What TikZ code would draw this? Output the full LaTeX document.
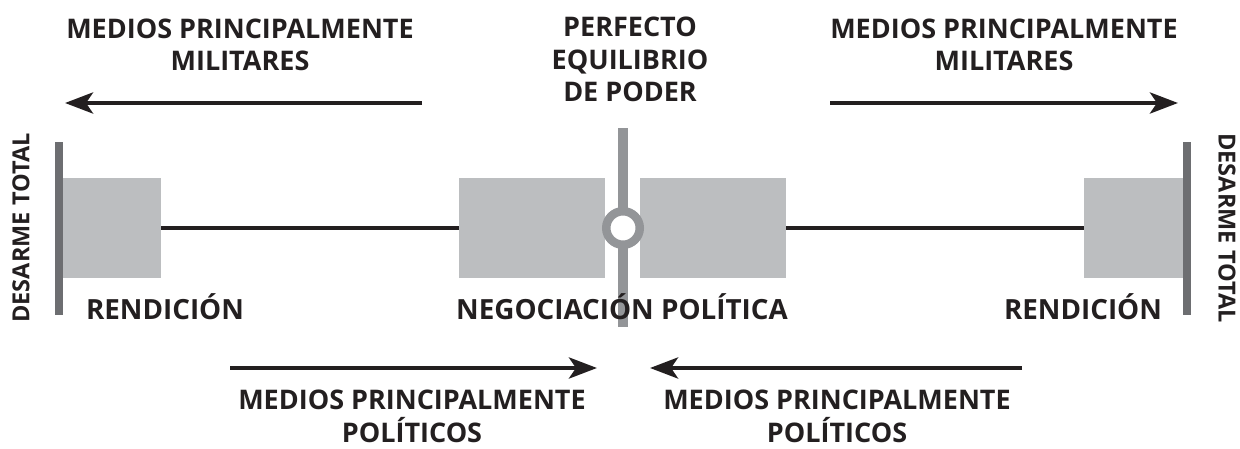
\documentclass[tikz,border=0pt]{standalone}
\usepackage{fontspec}
\setmainfont{Open Sans}
\usetikzlibrary{arrows.meta}
\definecolor{cajagris}{HTML}{BCBEC0}
\definecolor{barragris}{HTML}{6D6E71}
\definecolor{ejegris}{HTML}{939598}
\definecolor{tinta}{HTML}{231F20}
\tikzstyle{caja}=[rectangle,fill=cajagris,minimum height=100pt,inner sep=0pt]
\tikzstyle{barra}=[rectangle,fill=barragris,minimum width=8pt,minimum height=173pt,inner sep=0pt]
\tikzstyle{rotulo}=[text=tinta,font=\fontsize{27}{32.5}\selectfont\bfseries,align=center,inner sep=0pt,anchor=base]
\tikzstyle{flecha}=[draw=tinta,line width=4.5pt,-{Stealth[length=28pt,width=21pt,inset=7pt]}]

\begin{document}
\begin{tikzpicture}[x=1pt,y=-1pt]
    \useasboundingbox (0,0) rectangle (1240,449);
    \node[caja,minimum width=98pt] (c1) at (112,228) {};
    \node[caja,minimum width=146pt] (c2) at (532,228) {};
    \node[caja,minimum width=146pt] (c3) at (713,228) {};
    \node[caja,minimum width=99pt] (c4) at (1133.5,228) {};
    \node[barra] (b1) at (59,228.5) {};
    \node[barra] (b2) at (1186.5,228.5) {};

    \foreach \from/\to in {c1/c2,c3/c4}
    \draw[tinta,line width=4.5pt] (\from) -- (\to);

    \node[rectangle,fill=ejegris,minimum width=10pt,minimum height=199pt,inner sep=0pt] (eje) at (623,227.5) {};
    \node[circle,draw=ejegris,line width=8.5pt,fill=white,minimum size=33.5pt,inner sep=0pt] (anillo) at (623,228) {};

    \node[rotulo,font=\fontsize{27.8}{32}\selectfont\bfseries] (ren1) at (165,319) {RENDICIÓN};
    \node[rotulo,font=\fontsize{27.8}{32}\selectfont\bfseries] (neg) at (622,319) {NEGOCIACIÓN POLÍTICA};
    \node[rotulo,font=\fontsize{27.8}{32}\selectfont\bfseries] (ren2) at (1083,319) {RENDICIÓN};

    \node[rotulo] (mil1) at (240,71) {MEDIOS PRINCIPALMENTE\\MILITARES};
    \node[rotulo] (mil2) at (1004,71) {MEDIOS PRINCIPALMENTE\\MILITARES};
    \node[rotulo] (equi) at (630,102) {PERFECTO\\EQUILIBRIO\\DE PODER};
    \node[rotulo] (pol1) at (412,442) {MEDIOS PRINCIPALMENTE\\POLÍTICOS};
    \node[rotulo] (pol2) at (837,442) {MEDIOS PRINCIPALMENTE\\POLÍTICOS};
    \node[rotulo,font=\fontsize{23.5}{28}\selectfont\bfseries,rotate=90,anchor=center] (des1) at (21,228) {DESARME TOTAL};
    \node[rotulo,font=\fontsize{23.5}{28}\selectfont\bfseries,rotate=-90,anchor=center] (des2) at (1227,228) {DESARME TOTAL};

    \coordinate (m1a) at (422,103);
    \coordinate (m1b) at (65,103);
    \coordinate (m2a) at (830,103);
    \coordinate (m2b) at (1178,103);
    \coordinate (p1a) at (230,368);
    \coordinate (p1b) at (597,368);
    \coordinate (p2a) at (1022,368);
    \coordinate (p2b) at (650,368);
    \foreach \from/\to in {m1a/m1b,m2a/m2b,p1a/p1b,p2a/p2b}
    \draw[flecha] (\from) -- (\to);
\end{tikzpicture}
\end{document}
